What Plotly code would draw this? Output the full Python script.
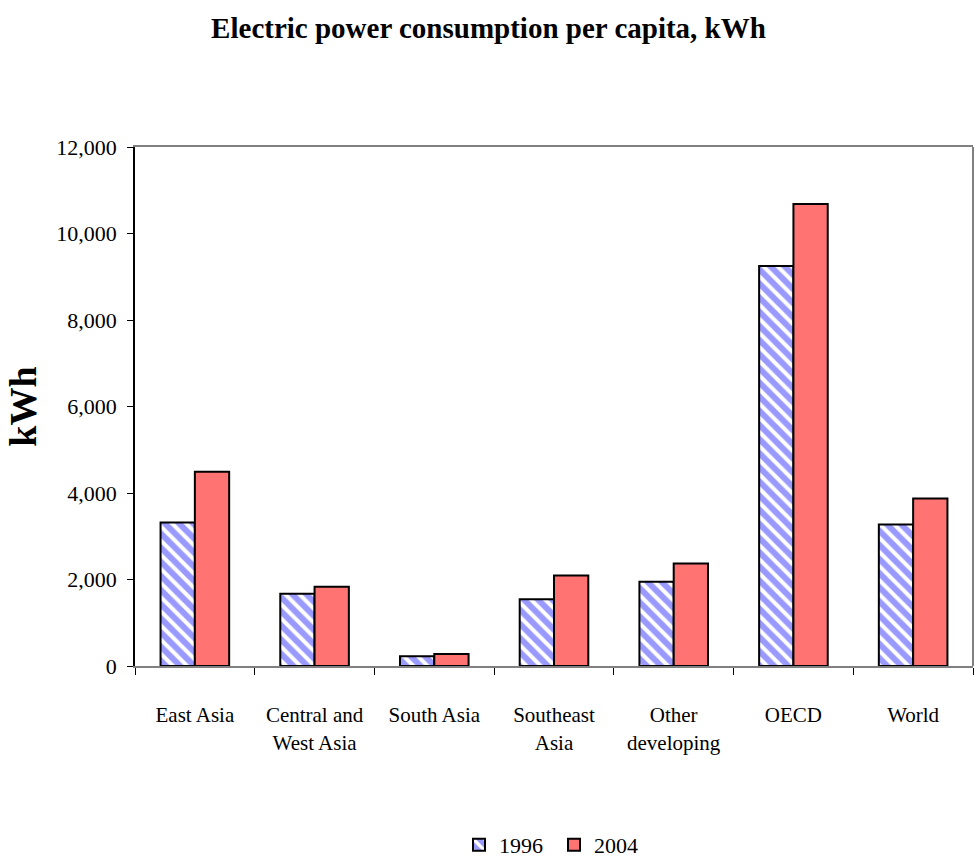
import plotly.graph_objects as go

# Electric power consumption per capita (kWh), by region
regions = ["East Asia", "Central and<br>West Asia", "South Asia", "Southeast<br>Asia",
           "Other<br>developing", "OECD", "World"]
kwh_1996 = [3320, 1670, 225, 1545, 1950, 9250, 3270]
kwh_2004 = [4490, 1830, 278, 2090, 2370, 10680, 3870]
y_ticks = [0, 2000, 4000, 6000, 8000, 10000, 12000]

SERIF = "Liberation Serif, Times New Roman, serif"

fig = go.Figure()
fig.add_trace(go.Bar(
    name="1996", x=regions, y=kwh_1996,
    marker=dict(
        color="#9999FF",
        line=dict(color="black", width=2),
        pattern=dict(shape="\\", bgcolor="#9999FF", fgcolor="white",
                     size=10, solidity=0.4, fillmode="replace"),
    ),
))
fig.add_trace(go.Bar(
    name="2004", x=regions, y=kwh_2004,
    marker=dict(color="#FF7373", line=dict(color="black", width=2)),
))

fig.update_layout(
    width=977, height=862,
    margin=dict(l=135, r=4, t=147, b=196, autoexpand=False),
    paper_bgcolor="white", plot_bgcolor="white",
    barmode="group", bargap=0.427, bargroupgap=0,
    font=dict(family=SERIF, size=21, color="black"),
    title=dict(
        text="<b>Electric power consumption per capita, kWh</b>",
        font=dict(family=SERIF, size=29, color="black"),
        x=0.5, xref="container", xanchor="center",
        y=1 - 28 / 862, yref="container", yanchor="middle",
    ),
    showlegend=True,
    legend=dict(
        orientation="h", x=0.5, xanchor="center",
        y=-0.345, yanchor="middle",
        font=dict(family=SERIF, size=22, color="black"),
        itemwidth=30, entrywidth=50, entrywidthmode="pixels",
        traceorder="normal",
    ),
    hovermode=False,
)

fig.update_xaxes(
    showline=True, linecolor="#808080", linewidth=2, mirror=True,
    ticks="outside", tickson="boundaries", ticklen=7, tickcolor="black", tickwidth=1,
    ticklabelstandoff=29, tickangle=0,
    tickfont=dict(family=SERIF, size=21, color="black"),
    showgrid=False, zeroline=False,
)
fig.update_yaxes(
    range=[0, 12000], tickvals=y_ticks, tickformat=",",
    showline=True, linecolor="black", linewidth=1.5, mirror=False,
    ticks="outside", ticklen=6, tickcolor="black", tickwidth=1,
    ticklabelstandoff=6,
    tickfont=dict(family=SERIF, size=22, color="black"),
    showgrid=False, zeroline=False,
    title=dict(text="<b>kWh</b>", font=dict(family=SERIF, size=38, color="black"),
               standoff=8),
)

# grey frame line on the right-hand side of the plot area
fig.add_shape(type="line", xref="paper", yref="paper", x0=1, x1=1, y0=0, y1=1,
              line=dict(color="#808080", width=2))

fig.write_html("out.html", config={"displayModeBar": False})
